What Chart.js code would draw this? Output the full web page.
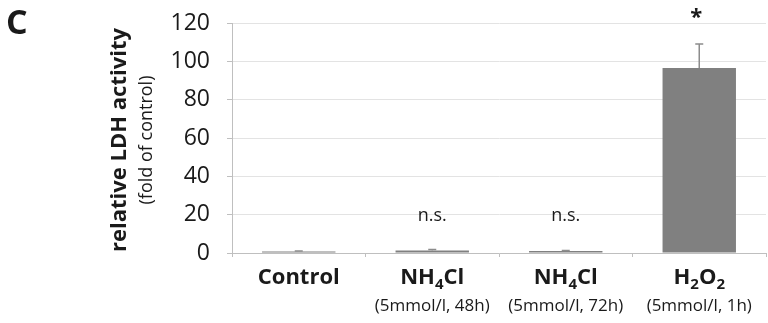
<!DOCTYPE html>
<html>
<head>
<meta charset="utf-8">
<script src="https://cdn.jsdelivr.net/npm/chart.js@4.4.0/dist/chart.umd.min.js"></script>
<style>
  html, body { margin: 0; padding: 0; background: #fff; }
  #wrap { width: 768px; height: 323px; }
</style>
</head>
<body>
<div id="wrap"><canvas id="ldhChart" width="768" height="323"></canvas></div>
<script>
// ----------------------------------------------------------
// DATA
// ----------------------------------------------------------
const categories = ["Control", "NH4Cl 48h", "NH4Cl 72h", "H2O2"];
// main label parts: [text, subscript?]
const labelParts = [
    [["Control", false]],
    [["NH", false], ["4", true], ["Cl", false]],
    [["NH", false], ["4", true], ["Cl", false]],
    [["H", false], ["2", true], ["O", false], ["2", true]]
];
const subLabels = ["", "(5mmol/l, 48h)", "(5mmol/l, 72h)", "(5mmol/l, 1h)"];
const ldhValues = [0.8, 1.3, 1.0, 96.5];
const ldhErrors = [0.2, 0.5, 0.3, 12.5];
const significance = ["", "n.s.", "n.s.", "*"];
const yTicks = [0, 20, 40, 60, 80, 100, 120];

const FONT = "'Open Sans', sans-serif";

// ----------------------------------------------------------
// ANNOTATIONS PLUGIN (error bars, labels, titles)
// ----------------------------------------------------------
const annotations = {
    id: "annotations",
    afterDatasetsDraw(chart) {
        const ctx = chart.ctx;
        const x = chart.scales.x;
        const y = chart.scales.y;
        ctx.save();

        // error bars (upper only)
        ctx.strokeStyle = "#8c8c8c";
        ctx.lineWidth = 1.5;
        ldhValues.forEach((v, i) => {
            const px = x.getPixelForValue(i);
            const top = y.getPixelForValue(v + ldhErrors[i]);
            const base = y.getPixelForValue(v);
            ctx.beginPath();
            ctx.moveTo(px, base);
            ctx.lineTo(px, top);
            ctx.moveTo(px - 4, top);
            ctx.lineTo(px + 4, top);
            ctx.stroke();
        });

        // significance marks
        ctx.fillStyle = "#1a1a1a";
        ctx.textAlign = "center";
        ctx.textBaseline = "middle";
        significance.forEach((s, i) => {
            if (!s) return;
            const px = x.getPixelForValue(i);
            if (s === "*") {
                ctx.font = "bold 22px " + FONT;
                ctx.fillText(s, px - 3, y.getPixelForValue(ldhValues[i] + ldhErrors[i]) - 26);
            } else {
                ctx.font = "18px " + FONT;
                ctx.fillText(s, px, 216);
            }
        });

        // category labels with subscripts
        ctx.textBaseline = "alphabetic";
        ctx.textAlign = "left";
        labelParts.forEach((parts, i) => {
            const px = x.getPixelForValue(i);
            let w = 0;
            parts.forEach(([t, sub]) => {
                ctx.font = sub ? "bold 15px " + FONT : "bold 22px " + FONT;
                w += ctx.measureText(t).width;
            });
            let cx = px - w / 2;
            parts.forEach(([t, sub]) => {
                ctx.font = sub ? "bold 15px " + FONT : "bold 22px " + FONT;
                ctx.fillText(t, cx, sub ? 289 : 284);
                cx += ctx.measureText(t).width;
            });
            if (subLabels[i]) {
                ctx.font = "17px " + FONT;
                ctx.textAlign = "center";
                ctx.fillText(subLabels[i], px, 311);
                ctx.textAlign = "left";
            }
        });

        // panel letter
        ctx.font = "bold 34px " + FONT;
        ctx.textBaseline = "alphabetic";
        ctx.fillText("C", 6, 34);

        // y axis title
        ctx.save();
        ctx.translate(120, 140);
        ctx.rotate(-Math.PI / 2);
        ctx.textAlign = "center";
        ctx.textBaseline = "middle";
        ctx.font = "bold 22px " + FONT;
        ctx.fillText("relative LDH activity", 0, 0);
        ctx.font = "18px " + FONT;
        ctx.fillText("(fold of control)", 0, 27);
        ctx.restore();

        ctx.restore();
    }
};

// ----------------------------------------------------------
// CHART
// ----------------------------------------------------------
new Chart(document.getElementById("ldhChart").getContext("2d"), {
    type: "bar",
    data: {
        labels: categories,
        datasets: [{
            data: ldhValues,
            backgroundColor: "#808080",
            borderWidth: 0,
            barPercentage: 0.55,
            categoryPercentage: 1.0
        }]
    },
    options: {
        responsive: false,
        animation: false,
        layout: { padding: { top: 23, right: 2, left: 0, bottom: 0 } },
        plugins: {
            legend: { display: false },
            tooltip: { enabled: false }
        },
        scales: {
            x: {
                offset: true,
                grid: {
                    offset: true,
                    drawOnChartArea: false,
                    drawTicks: true,
                    tickLength: 4,
                    color: "#bfbfbf"
                },
                border: { color: "#bfbfbf", width: 1 },
                ticks: { callback: () => "" },
                afterFit(scale) { scale.height = 70; }
            },
            y: {
                min: 0,
                max: 120,
                afterBuildTicks(scale) {
                    scale.ticks = yTicks.map(v => ({ value: v }));
                },
                grid: {
                    color: "#e3e3e3",
                    tickLength: 5,
                    tickColor: "#bfbfbf"
                },
                border: { color: "#bfbfbf", width: 1 },
                ticks: {
                    color: "#1a1a1a",
                    padding: 17,
                    font: { family: FONT, size: 23 }
                },
                afterFit(scale) {
                    scale.width = 232;
                    scale.paddingTop = 0;
                    scale.paddingBottom = 0;
                }
            }
        }
    },
    plugins: [annotations]
});
</script>
</body>
</html>
